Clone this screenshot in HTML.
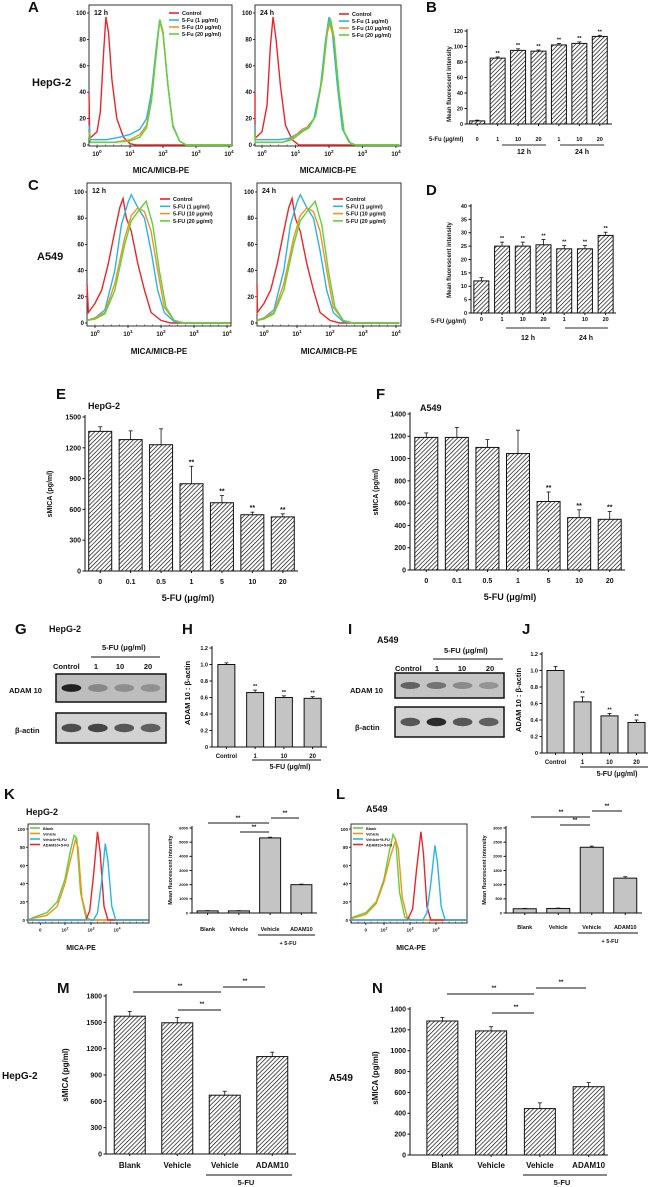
<!DOCTYPE html>
<html><head><meta charset="utf-8"><style>
html,body{margin:0;padding:0;background:#fff;}
svg{display:block;font-family:"Liberation Sans",Arial,sans-serif;}
</style></head><body>
<svg id="fig" width="650" height="1187" viewBox="0 0 650 1187" xmlns="http://www.w3.org/2000/svg">
<defs>
<pattern id="hatch" patternUnits="userSpaceOnUse" width="3" height="3" patternTransform="rotate(45)">
<rect width="3" height="3" fill="#fff"/><line x1="0" y1="0" x2="0" y2="3" stroke="#000" stroke-width="1.3"/>
</pattern>
</defs>
</svg>
<script>
// ---------- data ----------
const bCats=["0","1","10","20","1","10","20"], bVals=[4,85,95,94,102,104,113], bErr=[1,1.5,2,1.5,2,2,1.5], bStars=[0,1,1,1,1,1,1];
const dCats=["0","1","10","20","1","10","20"], dVals=[12,25,25,25.5,24,24,29], dErr=[1.2,1.5,1.5,2,1.2,1.2,1.2], dStars=[0,1,1,1,1,1,1];
const eCats=["0","0.1","0.5","1","5","10","20"], eVals=[1360,1280,1230,850,665,548,527], eErr=[45,85,155,170,70,25,30], eStars=[0,0,0,1,1,1,1];
const fCats=["0","0.1","0.5","1","5","10","20"], fVals=[1190,1190,1100,1045,615,470,455], fErr=[40,90,70,210,85,70,70], fStars=[0,0,0,0,1,1,1];
const hCats=["Control","1","10","20"], hVals=[1.0,0.66,0.6,0.59], hErr=[0.02,0.03,0.02,0.02], hStars=[0,1,1,1];
const jCats=["Control","1","10","20"], jVals=[1.0,0.62,0.45,0.37], jErr=[0.05,0.06,0.03,0.03], jStars=[0,1,1,1];
const kCats=["Blank","Vehicle","Vehicle","ADAM10"], kVals=[150,150,5300,2000], kErr=[20,20,50,40];
const lCats=["Blank","Vehicle","Vehicle","ADAM10"], lVals=[150,160,2320,1230], lErr=[15,15,40,50];
const mCats=["Blank","Vehicle","Vehicle","ADAM10"], mVals=[1570,1495,670,1110], mErr=[55,60,45,50];
const nCats=["Blank","Vehicle","Vehicle","ADAM10"], nVals=[1285,1190,445,655], nErr=[35,40,55,40];
// histogram series: [log10 intensity, % of max]
const a1Ctrl=[[-0.25,40],[-0.22,5],[0,10],[0.1,25],[0.2,70],[0.27,97],[0.35,85],[0.45,50],[0.6,20],[0.8,6],[1,1],[1.2,0],[4.1,0]];
const a1Blue=[[-0.25,15],[-0.2,4],[0.3,4],[0.7,6],[1,8],[1.3,12],[1.5,20],[1.65,40],[1.8,75],[1.9,95],[2.0,85],[2.15,45],[2.3,15],[2.5,3],[2.7,0],[4.1,0]];
const a1Orange=[[-0.25,10],[-0.2,2],[0.5,2],[1,4],[1.3,8],[1.5,15],[1.65,35],[1.8,72],[1.9,94],[2.0,84],[2.15,45],[2.3,14],[2.5,3],[2.7,0],[4.1,0]];
const a1Green=[[-0.25,8],[-0.2,2],[0.5,2],[1,3],[1.3,6],[1.5,13],[1.65,33],[1.8,70],[1.9,95],[2.0,86],[2.15,45],[2.3,14],[2.5,3],[2.7,0],[4.1,0]];
const a2Ctrl=[[-0.25,40],[-0.22,5],[0,10],[0.15,30],[0.25,75],[0.33,97],[0.42,80],[0.55,45],[0.7,15],[0.9,4],[1.1,0],[4.1,0]];
const a2Blue=[[-0.25,15],[-0.2,4],[0.5,4],[0.8,5],[1.1,9],[1.3,12],[1.55,20],[1.75,45],[1.9,80],[2.0,97],[2.1,85],[2.25,45],[2.4,12],[2.6,2],[2.8,0],[4.1,0]];
const a2Orange=[[-0.25,10],[-0.2,2],[0.6,2],[0.9,5],[1.2,12],[1.4,14],[1.6,22],[1.8,50],[1.95,85],[2.02,92],[2.15,80],[2.3,40],[2.45,10],[2.65,1],[2.8,0],[4.1,0]];
const a2Green=[[-0.25,10],[-0.2,2],[0.6,2],[0.9,4],[1.2,10],[1.4,13],[1.6,22],[1.8,52],[1.95,88],[2.05,95],[2.15,82],[2.3,40],[2.45,10],[2.65,1],[2.8,0],[4.1,0]];
const cCtrl=[[-0.25,30],[-0.2,8],[0,15],[0.2,25],[0.4,45],[0.6,70],[0.75,88],[0.85,95],[0.95,80],[1.1,70],[1.3,45],[1.5,25],[1.7,8],[2,2],[2.3,0],[4.1,0]];
const cBlue=[[-0.25,2],[0,4],[0.3,10],[0.6,40],[0.8,75],[1.0,92],[1.1,98],[1.3,88],[1.5,80],[1.7,55],[1.9,25],[2.1,8],[2.4,1],[2.7,0],[4.1,0]];
const cOrange=[[-0.25,2],[0,4],[0.3,8],[0.6,30],[0.9,65],[1.1,82],[1.3,88],[1.5,85],[1.7,70],[1.9,40],[2.1,12],[2.4,2],[2.7,0],[4.1,0]];
const cGreen=[[-0.25,2],[0,3],[0.3,7],[0.6,25],[0.9,60],[1.1,78],[1.3,85],[1.55,93],[1.75,75],[1.95,40],[2.15,12],[2.4,2],[2.7,0],[4.1,0]];
const kGreen=[[0,0],[0.8,3],[1.3,8],[1.7,20],[2.0,45],[2.2,75],[2.35,93],[2.45,90],[2.6,30],[2.8,3],[3,0],[5.2,0]];
const kOrange=[[0,0],[0.8,2],[1.3,5],[1.7,15],[2.0,40],[2.2,65],[2.4,88],[2.5,80],[2.65,25],[2.85,2],[3,0],[5.2,0]];
const kRed=[[0,0],[2.8,0],[2.95,10],[3.1,50],[3.25,97],[3.35,75],[3.5,15],[3.65,0],[5.2,0]];
const kBlue=[[0,0],[3.1,0],[3.25,8],[3.4,40],[3.55,84],[3.65,65],[3.8,15],[3.95,0],[5.2,0]];
const lGreen=[[0,0],[0.8,3],[1.3,8],[1.7,20],[2.0,45],[2.2,75],[2.35,94],[2.45,88],[2.6,30],[2.8,3],[3,0],[5.2,0]];
const lOrange=[[0,0],[0.8,2],[1.3,6],[1.7,18],[2.0,42],[2.25,70],[2.45,88],[2.55,78],[2.7,25],[2.9,2],[3.1,0],[5.2,0]];
const lRed=[[0,0],[2.9,0],[3.1,12],[3.25,55],[3.42,97],[3.52,72],[3.65,15],[3.8,0],[5.2,0]];
const lBlue=[[0,0],[3.5,0],[3.65,8],[3.8,40],[3.96,82],[4.06,62],[4.2,15],[4.35,0],[5.2,0]];

// ---------- helpers ----------
const NS="http://www.w3.org/2000/svg", svg=document.getElementById('fig');
function mk(tag,attrs,parent){const e=document.createElementNS(NS,tag);for(const k in attrs)e.setAttribute(k,attrs[k]);(parent||svg).appendChild(e);return e;}
function txt(x,y,s,size,anchor,parent,name,rot){
  const t=mk('text',{x:x,y:y,'font-size':size,'font-weight':'bold','text-anchor':anchor||'start',fill:'#111'},parent);
  if(rot)t.setAttribute('transform','rotate(-90 '+x+' '+y+')');
  t.textContent=s;
  
  
  return t;}
function line(x1,y1,x2,y2,w,parent,col){return mk('line',{x1:x1,y1:y1,x2:x2,y2:y2,stroke:col||'#111','stroke-width':w||1},parent);}

function barChart(o){
  const g=mk('g',{});
  
  
  const yS=v=>o.yBase-v/o.max*(o.yBase-o.yTop);
  const n=o.vals.length, step=(o.b1-o.b0)/n, cx=i=>o.b0+(i+0.5)*step;
  line(o.x0,o.yBase,o.x1,o.yBase,1,g);
  line(o.x0,o.yTop-2,o.x0,o.yBase,1,g);
  o.ticks.forEach(t=>{const y=yS(t);line(o.x0-2.5,y,o.x0,y,1,g);
    txt(o.x0-4,y+o.fs*0.35,o.fmt?o.fmt(t):String(t),o.fs,'end',g,'y-tick-label');});
  for(let i=0;i<n;i++){
    const x=cx(i), y=yS(o.vals[i]);
    const r=mk('rect',{x:x-o.bw/2,y:y,width:o.bw,height:o.yBase-y,fill:o.fill,stroke:'#111','stroke-width':1},g);
    
    
    const ye=yS(o.vals[i]+o.errs[i]);
    line(x,y,x,ye,0.8,g);line(x-2,ye,x+2,ye,0.8,g);
    if(o.stars&&o.stars[i])txt(x,ye-2,'**',o.fs,'middle',g,'significance-star');
    line(x,o.yBase,x,o.yBase+2,1,g);
    txt(x,o.labY,o.cats[i],o.cfs||o.fs,'middle',g,'x-tick-label');
  }
  if(o.ytitle)txt(o.tx,o.ty,o.ytitle,o.tfs||o.fs+1,'middle',g,'y-axis-title',true);
  return g;}

function hist(o){
  const g=mk('g',{});
  
  
  mk('rect',{x:o.fx0,y:o.fy0,width:o.fx1-o.fx0,height:o.fy1-o.fy0,fill:'#fff',stroke:'#333','stroke-width':1},g);
  const xS=l=>o.xl0+l*o.dec, yS=c=>o.y0-c/100*(o.y0-o.y100);
  [0,20,40,60,80,100].forEach(t=>{const y=yS(t);line(o.fx0-2,y,o.fx0,y,0.8,g);txt(o.fx0-3,y+2,String(t),o.tfs,'end',g,'y-tick-label');});
  o.xt.forEach(p=>{const x=xS(p[0]);line(x,o.fy1,x,o.fy1+2,0.8,g);
    const t=txt(x,o.fy1+o.tfs+4,p[1],o.tfs,'middle',g,'x-tick-label');
    if(p[2]){const s=mk('tspan',{dy:-o.tfs*0.5,'font-size':o.tfs*0.75},t);s.textContent=p[2];}});
  for(let l=Math.ceil(o.lmin);l<o.lmax;l+=0.25){const x=xS(l);if(x>o.fx0&&x<o.fx1)line(x,o.fy1,x,o.fy1-1.5,0.5,g);}
  o.series.forEach(s=>{
    const pts=s.d.map(p=>Math.max(o.fx0,Math.min(o.fx1,xS(p[0])))+','+yS(p[1])).join(' ');
    const pl=mk('polyline',{points:pts,fill:'none',stroke:s.c,'stroke-width':1.4},g);
    
    
  });
  if(o.leg){o.leg.forEach((e,i)=>{const y=o.legY+i*o.legDy;line(o.legX,y,o.legX+10,y,1.6,g,e[1]);txt(o.legX+13,y+2,e[0],o.lfs,'start',g,'legend-entry');});}
  if(o.title)txt(o.fx0+5,o.fy0+10,o.title,7,'start',g,'time-label');
  return g;}

const RED='#e8262b',BLUE='#29b5e8',ORA='#f39221',GRN='#5ed23a';
// ---------- panel A ----------
txt(28,12,'A',15,'start',null,'panel-label-a');
txt(32,86,'HepG-2',11,'start',null,'row-label-hepg2');
const decTicks=[[0,'10','0'],[1,'10','1'],[2,'10','2'],[3,'10','3'],[4,'10','4']];
hist({name:'histogram-a-12h',fx0:89,fx1:232,fy0:5,fy1:146,xl0:97,dec:33,y0:145,y100:13,lmin:-0.25,lmax:4.1,tfs:6,xt:decTicks,title:'12 h',
  series:[{n:'control',d:a1Ctrl,c:RED},{n:'1',d:a1Blue,c:BLUE},{n:'10',d:a1Orange,c:ORA},{n:'20',d:a1Green,c:GRN}],
  leg:[['Control',RED],['5-Fu (1 μg/ml)',BLUE],['5-Fu (10 μg/ml)',ORA],['5-Fu (20 μg/ml)',GRN]],legX:169,legY:13,legDy:7,lfs:5.5});
hist({name:'histogram-a-24h',fx0:255,fx1:401,fy0:5,fy1:146,xl0:262,dec:33.5,y0:145,y100:13,lmin:-0.25,lmax:4.1,tfs:6,xt:decTicks,title:'24 h',
  series:[{n:'control',d:a2Ctrl,c:RED},{n:'1',d:a2Blue,c:BLUE},{n:'10',d:a2Orange,c:ORA},{n:'20',d:a2Green,c:GRN}],
  leg:[['Control',RED],['5-Fu (1 μg/ml)',BLUE],['5-Fu (10 μg/ml)',ORA],['5-Fu (20 μg/ml)',GRN]],legX:339,legY:14,legDy:7,lfs:5.5});
txt(161,173,'MICA/MICB-PE',8,'middle',null,'x-axis-title-a1');
txt(328,173,'MICA/MICB-PE',8,'middle',null,'x-axis-title-a2');
// ---------- panel B ----------
txt(426,12,'B',15,'start',null,'panel-label-b');
barChart({name:'bar-chart-b',x0:467,x1:612,b0:467,b1:610,yBase:124,yTop:31,max:120,ticks:[0,20,40,60,80,100,120],fs:5.5,bw:15,fill:'url(#hatch)',
  cats:bCats,vals:bVals,errs:bErr,stars:bStars,labY:141,ytitle:'Mean fluorescent intensity',tx:451,ty:84,tfs:6});
txt(429,141,'5-Fu (μg/ml)',6,'start',null,'x-axis-title-b');
line(502,145,546,145,1.2,null,'#555');line(560,145,604,145,1.2,null,'#555');
txt(524,154,'12 h',7,'middle',null,'group-label-12h');txt(582,154,'24 h',7,'middle',null,'group-label-24h');
// ---------- panel C ----------
txt(28,190,'C',15,'start',null,'panel-label-c');
txt(37,260,'A549',11,'start',null,'row-label-a549');
hist({name:'histogram-c-12h',fx0:87,fx1:231,fy0:183,fy1:326,xl0:95,dec:33,y0:323,y100:192,lmin:-0.25,lmax:4.1,tfs:6,xt:decTicks,title:'12 h',
  series:[{n:'control',d:cCtrl,c:RED},{n:'1',d:cBlue,c:BLUE},{n:'10',d:cOrange,c:ORA},{n:'20',d:cGreen,c:GRN}],
  leg:[['Control',RED],['5-FU (1 μg/ml)',BLUE],['5-FU (10 μg/ml)',ORA],['5-FU (20 μg/ml)',GRN]],legX:160,legY:199,legDy:7.3,lfs:5.5});
hist({name:'histogram-c-24h',fx0:257,fx1:401,fy0:183,fy1:326,xl0:264,dec:33,y0:323,y100:192,lmin:-0.25,lmax:4.1,tfs:6,xt:decTicks,title:'24 h',
  series:[{n:'control',d:cCtrl,c:RED},{n:'1',d:cBlue,c:BLUE},{n:'10',d:cOrange,c:ORA},{n:'20',d:cGreen,c:GRN}],
  leg:[['Control',RED],['5-FU (1 μg/ml)',BLUE],['5-FU (10 μg/ml)',ORA],['5-FU (20 μg/ml)',GRN]],legX:333,legY:199,legDy:7.3,lfs:5.5});
txt(159,354,'MICA/MICB-PE',8,'middle',null,'x-axis-title-c1');
txt(329,354,'MICA/MICB-PE',8,'middle',null,'x-axis-title-c2');
// ---------- panel D ----------
txt(426,195,'D',15,'start',null,'panel-label-d');
barChart({name:'bar-chart-d',x0:471,x1:616,b0:471,b1:616,yBase:313,yTop:206,max:40,ticks:[0,5,10,15,20,25,30,35,40],fs:5.5,bw:15,fill:'url(#hatch)',
  cats:dCats,vals:dVals,errs:dErr,stars:dStars,labY:321,ytitle:'Mean fluorescent intensity',tx:451,ty:260,tfs:6});
txt(431,323,'5-FU (μg/ml)',6,'start',null,'x-axis-title-d');
line(506,328,550,328,1.2,null,'#555');line(565,328,608,328,1.2,null,'#555');
txt(528,340,'12 h',7,'middle',null,'group-label-12h');txt(586,340,'24 h',7,'middle',null,'group-label-24h');
// ---------- panel E/F ----------
txt(56,399,'E',15,'start',null,'panel-label-e');
txt(88,409,'HepG-2',9,'start',null,'cell-line-e');
barChart({name:'bar-chart-e',x0:85,x1:298,b0:85,b1:298,yBase:571,yTop:417,max:1500,ticks:[0,300,600,900,1200,1500],fs:7,bw:23,fill:'url(#hatch)',
  cats:eCats,vals:eVals,errs:eErr,stars:eStars,labY:584,ytitle:'sMICA (pg/ml)',tx:52,ty:494,tfs:7});
txt(188,601,'5-FU (μg/ml)',9,'middle',null,'x-axis-title-e');
txt(376,399,'F',15,'start',null,'panel-label-f');
txt(420,411,'A549',9,'start',null,'cell-line-f');
barChart({name:'bar-chart-f',x0:410,x1:625,b0:411,b1:625,yBase:570,yTop:414,max:1400,ticks:[0,200,400,600,800,1000,1200,1400],fs:7,bw:23,fill:'url(#hatch)',
  cats:fCats,vals:fVals,errs:fErr,stars:fStars,labY:583,ytitle:'sMICA (pg/ml)',tx:378,ty:492,tfs:7});
txt(510,600,'5-FU (μg/ml)',9,'middle',null,'x-axis-title-f');
// ---------- blots G / I ----------
function blot(name,x,y,w,h,intens,bg){
  const g=mk('g',{});
  
  
  mk('rect',{x:x,y:y,width:w,height:h,fill:bg||'#cfcfcf',stroke:'#111','stroke-width':1.5},g);
  intens.forEach((v,i)=>{const cx=x+w*(0.14+i*0.24);
    const b=mk('ellipse',{cx:cx,cy:y+h*0.5,rx:w*0.09,ry:h*0.14,fill:'#222','fill-opacity':v},g);
    });
  return g;}
txt(15,634,'G',15,'start',null,'panel-label-g');
txt(49,632,'HepG-2',9,'start',null,'cell-line-g');
txt(102,650,'5-FU (μg/ml)',7.5,'start',null,'treatment-label');
line(91,657,160,657,1,null);
txt(53,669,'Control',7.5,'start',null,'lane-control');txt(96,669,'1',7.5,'middle',null,'lane-1');txt(120,669,'10',7.5,'middle',null,'lane-10');txt(148,669,'20',7.5,'middle',null,'lane-20');
blot('blot-adam10-hepg2',56,674,110,28,[1,0.35,0.3,0.28],'#bdbdbd');
blot('blot-actin-hepg2',56,713,110,30,[0.75,0.8,0.7,0.65],'#d2d2d2');
txt(9,693,'ADAM 10',7.5,'start',null,'blot-label-adam10');txt(15,733,'β-actin',7.5,'start',null,'blot-label-actin');
txt(348,634,'I',15,'start',null,'panel-label-i');
txt(377,643,'A549',9,'start',null,'cell-line-i');
txt(444,653,'5-FU (μg/ml)',7.5,'start',null,'treatment-label');
line(433,659,503,659,1,null);
txt(395,671,'Control',7.5,'start',null,'lane-control');txt(437,671,'1',7.5,'middle',null,'lane-1');txt(462,671,'10',7.5,'middle',null,'lane-10');txt(490,671,'20',7.5,'middle',null,'lane-20');
blot('blot-adam10-a549',395,673,109,25,[0.6,0.5,0.35,0.3],'#c4c4c4');
blot('blot-actin-a549',395,707,109,30,[0.7,0.95,0.7,0.65],'#d2d2d2');
txt(350,693,'ADAM 10',7.5,'start',null,'blot-label-adam10');txt(355,730,'β-actin',7.5,'start',null,'blot-label-actin');
// ---------- H / J ----------
txt(182,634,'H',15,'start',null,'panel-label-h');
barChart({name:'bar-chart-h',x0:212,x1:327,b0:212,b1:327,yBase:747,yTop:648,max:1.2,ticks:[0,0.2,0.4,0.6,0.8,1.0,1.2],fmt:t=>t===0?'0':t.toFixed(1),fs:5.5,cfs:6,bw:17,fill:'#c4c4c4',
  cats:hCats,vals:hVals,errs:hErr,stars:hStars,labY:758,ytitle:'ADAM 10 : β-actin',tx:190,ty:693,tfs:7.5});
line(252,760,321,760,1,null);txt(290,769,'5-FU (μg/ml)',7,'middle',null,'x-axis-title-h');
txt(522,634,'J',15,'start',null,'panel-label-j');
barChart({name:'bar-chart-j',x0:542,x1:648,b0:542,b1:650,yBase:753,yTop:654,max:1.2,ticks:[0,0.2,0.4,0.6,0.8,1.0,1.2],fmt:t=>t===0?'0':t.toFixed(1),fs:5.5,cfs:6,bw:17,fill:'#c4c4c4',
  cats:jCats,vals:jVals,errs:jErr,stars:jStars,labY:764,ytitle:'ADAM 10 : β-actin',tx:521,ty:700,tfs:7.5});
line(580,767,648,767,1,null);txt(617,776,'5-FU (μg/ml)',7,'middle',null,'x-axis-title-j');
// ---------- K / L ----------
txt(4,799,'K',15,'start',null,'panel-label-k');
txt(26,815,'HepG-2',9,'start',null,'cell-line-k');
const kTicks=[[1,'0'],[2,'10','2'],[3,'10','3'],[4,'10','4']];
hist({name:'histogram-k',fx0:28,fx1:149,fy0:824,fy1:923,xl0:13,dec:26,y0:920,y100:829,lmin:0,lmax:5.2,tfs:4.5,xt:kTicks.map(t=>[t[0]+(t[0]===1?0.05:0),t[1],t[2]]),
  series:[{n:'blank',d:kGreen,c:GRN},{n:'vehicle',d:kOrange,c:ORA},{n:'adam10',d:kRed,c:RED},{n:'vehicle-5fu',d:kBlue,c:BLUE}],
  leg:[['Blank',GRN],['Vehicle',ORA],['Vehicle+5-FU',BLUE],['ADAM10+5-FU',RED]],legX:30,legY:828,legDy:5.5,lfs:3.8});
txt(81,950,'MICA-PE',7,'middle',null,'x-axis-title-k');
barChart({name:'bar-chart-k',x0:192,x1:317,b0:192,b1:317,yBase:913,yTop:828,max:6000,ticks:[0,1000,2000,3000,4000,5000,6000],fs:4,cfs:5.5,bw:21,fill:'#c4c4c4',
  cats:kCats,vals:kVals,errs:kErr,labY:931,ytitle:'Mean fluorescent intensity',tx:172,ty:870,tfs:5.5});
line(258,935,315,935,1,null);txt(288,945,'+ 5-FU',5.5,'middle',null,'group-label-5fu');
line(208,823,269,823,1.2,null,'#444');txt(238,820,'**',6,'middle',null,'significance');
line(240,832,269,832,1.2,null,'#444');txt(254,829,'**',6,'middle',null,'significance');
line(271,818,299,818,1.2,null,'#444');txt(285,815,'**',6,'middle',null,'significance');
txt(336,799,'L',15,'start',null,'panel-label-l');
txt(366,812,'A549',9,'start',null,'cell-line-l');
hist({name:'histogram-l',fx0:351,fx1:467,fy0:824,fy1:923,xl0:332,dec:26,y0:920,y100:829,lmin:0,lmax:5.2,tfs:4.5,xt:kTicks.map(t=>[t[0]+(t[0]===1?0.3:0),t[1],t[2]]),
  series:[{n:'blank',d:lGreen,c:GRN},{n:'vehicle',d:lOrange,c:ORA},{n:'adam10',d:lRed,c:RED},{n:'vehicle-5fu',d:lBlue,c:BLUE}],
  leg:[['Blank',GRN],['Vehicle',ORA],['Vehicle+5-FU',BLUE],['ADAM10+5-FU',RED]],legX:353,legY:828,legDy:5.5,lfs:3.8});
txt(411,950,'MICA-PE',7,'middle',null,'x-axis-title-l');
barChart({name:'bar-chart-l',x0:506,x1:642,b0:508,b1:642,yBase:913,yTop:828,max:3000,ticks:[0,500,1000,1500,2000,2500,3000],fs:4,cfs:5.5,bw:23,fill:'#c4c4c4',
  cats:lCats,vals:lVals,errs:lErr,labY:929,ytitle:'Mean fluorescent intensity',tx:486,ty:870,tfs:5.5});
line(578,933,638,933,1,null);txt(610,943,'+ 5-FU',5.5,'middle',null,'group-label-5fu');
line(531,817,590,817,1.2,null,'#444');txt(561,814,'**',6,'middle',null,'significance');
line(560,825,590,825,1.2,null,'#444');txt(575,822,'**',6,'middle',null,'significance');
line(592,811,622,811,1.2,null,'#444');txt(607,808,'**',6,'middle',null,'significance');
// ---------- M / N ----------
txt(57,993,'M',15,'start',null,'panel-label-m');
txt(2,1079,'HepG-2',10,'start',null,'cell-line-m');
barChart({name:'bar-chart-m',x0:106,x1:296,b0:106,b1:296,yBase:1154,yTop:996,max:1800,ticks:[0,300,600,900,1200,1500,1800],fs:7,cfs:8,bw:31,fill:'url(#hatch)',
  cats:mCats,vals:mVals,errs:mErr,labY:1168,ytitle:'sMICA (pg/ml)',tx:68,ty:1075,tfs:8});
line(206,1175,292,1175,1,null);txt(246,1185,'5-FU',7.5,'middle',null,'group-label-5fu');
line(133,992,221,992,1,null);txt(180,988,'**',6,'middle',null,'significance');
line(178,1010,221,1010,1,null);txt(202,1006,'**',6,'middle',null,'significance');
line(223,987,265,987,1,null);txt(245,983,'**',6,'middle',null,'significance');
txt(372,993,'N',15,'start',null,'panel-label-n');
txt(329,1081,'A549',10,'start',null,'cell-line-n');
barChart({name:'bar-chart-n',x0:410,x1:608,b0:418,b1:613,yBase:1155,yTop:1009,max:1400,ticks:[0,200,400,600,800,1000,1200,1400],fs:7,cfs:8,bw:31,fill:'url(#hatch)',
  cats:nCats,vals:nVals,errs:nErr,labY:1168,ytitle:'sMICA (pg/ml)',tx:378,ty:1078,tfs:8});
line(523,1175,607,1175,1,null);txt(562,1185,'5-FU',7.5,'middle',null,'group-label-5fu');
line(447,994,534,994,1,null);txt(494,990,'**',6,'middle',null,'significance');
line(492,1013,534,1013,1,null);txt(516,1009,'**',6,'middle',null,'significance');
line(536,988,586,988,1,null);txt(561,984,'**',6,'middle',null,'significance');
</script>
</body></html>
